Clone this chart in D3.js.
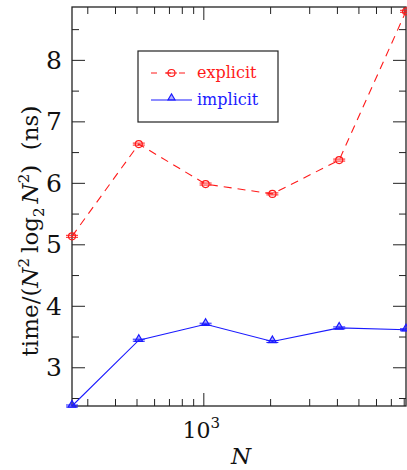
<!DOCTYPE html>
<html>
<head>
<meta charset="utf-8">
<script src="https://cdn.jsdelivr.net/npm/d3@7"></script>
<style>
  body { margin: 0; background: #fff; }
  svg text { font-family: "DejaVu Serif", "Liberation Serif", serif; }
</style>
</head>
<body>
<svg width="407" height="470"></svg>
<script>
(function () {
  "use strict";
  const sizes = [256, 512, 1024, 2048, 4096, 8192];
  const explicitValues = [5.13, 6.63, 5.98, 5.82, 6.37, 8.79];
  const implicitValues = [2.37, 3.44, 3.70, 3.42, 3.64, 3.61];
  const xMajorTicks = [1000];
  const xMinorTicks = [300, 400, 500, 600, 700, 800, 900, 2000, 3000, 4000, 5000, 6000, 7000, 8000];
  const yMajorTicks = [3, 4, 5, 6, 7, 8];
  const yMinorTicks = [2.5, 3.5, 4.5, 5.5, 6.5, 7.5, 8.5];

  const svg = d3.select("svg");
  const font = "'DejaVu Serif', 'Liberation Serif', serif";
  const margin = { top: 7, right: 1, bottom: 64, left: 72 };
  const width = +svg.attr("width");
  const height = +svg.attr("height");
  const innerWidth = width - margin.left - margin.right;
  const innerHeight = height - margin.top - margin.bottom;

  const xScale = d3.scaleLog().domain([256, 8192]).range([0, innerWidth]);
  const yScale = d3.scaleLinear().domain([2.37, 8.86]).range([innerHeight, 0]);

  const g = svg.append("g")
    .attr("transform", `translate(${margin.left},${margin.top})`);

  const axisColor = "#222";
  const majorLen = 13;
  const minorLen = 7;

  // inward ticks on all four sides
  const addTicks = (axis, vals, len, transform) => {
    const a = g.append("g")
      .attr("transform", transform)
      .call(axis.tickValues(vals).tickSize(len).tickFormat(""));
    a.select(".domain").remove();
    a.selectAll(".tick line").attr("stroke", axisColor);
    return a;
  };
  addTicks(d3.axisBottom(xScale), xMajorTicks, -majorLen, `translate(0,${innerHeight})`);
  addTicks(d3.axisBottom(xScale), xMinorTicks, -minorLen, `translate(0,${innerHeight})`);
  addTicks(d3.axisTop(xScale), xMajorTicks, -majorLen, "translate(0,0)");
  addTicks(d3.axisTop(xScale), xMinorTicks, -minorLen, "translate(0,0)");
  addTicks(d3.axisLeft(yScale), yMajorTicks, -majorLen, "translate(0,0)");
  addTicks(d3.axisLeft(yScale), yMinorTicks, -minorLen, "translate(0,0)");
  addTicks(d3.axisRight(yScale), yMajorTicks, -majorLen, `translate(${innerWidth},0)`);
  addTicks(d3.axisRight(yScale), yMinorTicks, -minorLen, `translate(${innerWidth},0)`);

  // tick labels
  g.selectAll(".ylab")
    .data(yMajorTicks)
    .enter()
    .append("text")
    .attr("class", "ylab")
    .attr("x", -10)
    .attr("y", (d) => yScale(d))
    .attr("dy", "0.36em")
    .attr("text-anchor", "end")
    .attr("font-family", font)
    .attr("font-size", 25)
    .attr("fill", "#111")
    .text((d) => d);

  const xl = g.append("text")
    .attr("x", xScale(1000) - 2)
    .attr("y", innerHeight + 32)
    .attr("text-anchor", "middle")
    .attr("font-family", font)
    .attr("font-size", 22)
    .attr("fill", "#111");
  xl.append("tspan").text("10");
  xl.append("tspan").attr("font-size", 15).attr("dy", -10).text("3");

  // axis titles
  g.append("text")
    .attr("x", innerWidth / 2 + 2)
    .attr("y", innerHeight + 58)
    .attr("text-anchor", "middle")
    .attr("font-family", font)
    .attr("font-size", 23)
    .attr("font-style", "italic")
    .attr("fill", "#111")
    .text("N");

  const yl = svg.append("text")
    .attr("transform", "translate(38,231) rotate(-90)")
    .attr("text-anchor", "middle")
    .attr("font-family", font)
    .attr("font-size", 23)
    .attr("fill", "#111");
  yl.append("tspan").text("time/(");
  yl.append("tspan").attr("font-style", "italic").text("N");
  yl.append("tspan").attr("font-size", 15).attr("dy", -9).text("2");
  yl.append("tspan").attr("dy", 9).attr("dx", 5).text("log");
  yl.append("tspan").attr("font-size", 15).attr("dy", 6).text("2");
  yl.append("tspan").attr("dy", -6).attr("dx", 4).attr("font-style", "italic").text("N");
  yl.append("tspan").attr("font-size", 15).attr("dy", -9).text("2");
  yl.append("tspan").attr("dy", 9).text(")\u00a0\u00a0(ns)");

  // frame
  g.append("rect")
    .attr("width", innerWidth)
    .attr("height", innerHeight)
    .attr("fill", "none")
    .attr("stroke", axisColor)
    .attr("stroke-width", 1.3);

  const series = [
    { name: "explicit", values: explicitValues, color: "#ff1a1a", dash: "8,6", marker: "circle" },
    { name: "implicit", values: implicitValues, color: "#1a1aff", dash: null, marker: "triangle" }
  ];

  const line = d3.line()
    .x((d) => xScale(d[0]))
    .y((d) => yScale(d[1]));

  const drawMarker = (sel, s, x, y) => {
    // error bar caps
    [-1, 1].forEach((o) => {
      sel.append("line")
        .attr("x1", x - 6).attr("x2", x + 6)
        .attr("y1", y + o).attr("y2", y + o)
        .attr("stroke", s.color).attr("stroke-width", 1);
    });
    if (s.marker === "circle") {
      sel.append("circle")
        .attr("cx", x).attr("cy", y).attr("r", 3.5)
        .attr("fill", "none").attr("stroke", s.color).attr("stroke-width", 1.2);
    } else {
      sel.append("path")
        .attr("d", d3.symbol(d3.symbolTriangle, 26)())
        .attr("transform", `translate(${x},${y - 1})`)
        .attr("fill", s.color).attr("fill-opacity", 0.35)
        .attr("stroke", s.color).attr("stroke-width", 1.2);
    }
  };

  const plot = g.append("g");
  series.forEach((s) => {
    const pts = sizes.map((n, i) => [n, s.values[i]]);
    plot.append("path")
      .datum(pts)
      .attr("d", line)
      .attr("fill", "none")
      .attr("stroke", s.color)
      .attr("stroke-width", 1.1)
      .attr("stroke-dasharray", s.dash);
    pts.forEach((p) => drawMarker(plot, s, xScale(p[0]), yScale(p[1])));
  });

  // legend
  const legend = svg.append("g").attr("transform", "translate(138,51)");
  legend.append("rect")
    .attr("width", 140)
    .attr("height", 71)
    .attr("fill", "#fff")
    .attr("stroke", "#222")
    .attr("stroke-width", 1.2);
  series.forEach((s, i) => {
    const y = 22 + i * 27;
    legend.append("line")
      .attr("x1", 13).attr("x2", 54)
      .attr("y1", y).attr("y2", y)
      .attr("stroke", s.color)
      .attr("stroke-width", 1.1)
      .attr("stroke-dasharray", s.dash ? "6,8" : null);
    const m = legend.append("g");
    if (s.marker === "circle") {
      m.append("line").attr("x1", 28).attr("x2", 39).attr("y1", y).attr("y2", y)
        .attr("stroke", s.color).attr("stroke-width", 1);
      m.append("circle").attr("cx", 33.5).attr("cy", y).attr("r", 3.5)
        .attr("fill", "none").attr("stroke", s.color).attr("stroke-width", 1.2);
    } else {
      m.append("path")
        .attr("d", d3.symbol(d3.symbolTriangle, 22)())
        .attr("transform", `translate(33.5,${y - 2})`)
        .attr("fill", s.color).attr("fill-opacity", 0.35)
        .attr("stroke", s.color).attr("stroke-width", 1.1);
    }
    legend.append("text")
      .attr("x", 59)
      .attr("y", y)
      .attr("dy", "0.32em")
      .attr("font-family", font)
      .attr("font-size", 16)
      .attr("fill", s.color)
      .text(s.name);
  });
})();
</script>
</body>
</html>
